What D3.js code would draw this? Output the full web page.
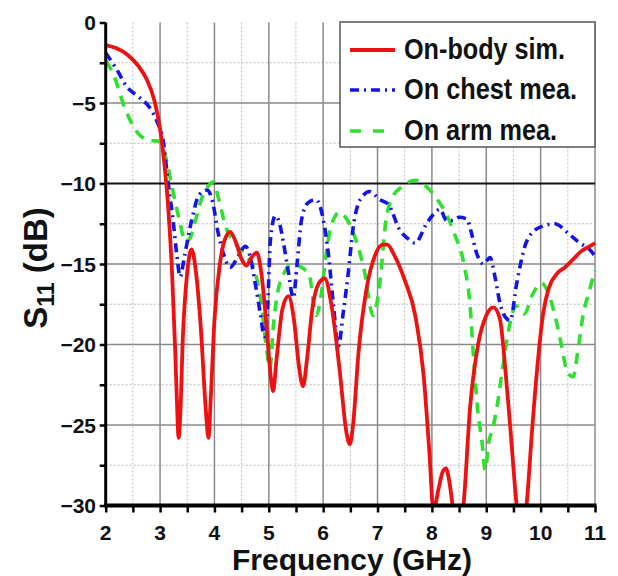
<!DOCTYPE html>
<html>
<head>
<meta charset="utf-8">
<script src="https://cdn.jsdelivr.net/npm/d3@7"></script>
<style>
  html, body { margin: 0; padding: 0; background: #fff; }
  svg text { font-family: "Liberation Sans", Arial, sans-serif; font-weight: bold; fill: #111; }
</style>
</head>
<body>
<svg id="chart" width="618" height="576"></svg>
<script>
// Reflection coefficient S11 (dB) vs frequency (GHz)
const simFreq = [2.0,2.2,2.4,2.6,2.75,2.9,3.0,3.08,3.15,3.22,3.28,3.32,3.34,3.37,3.42,3.5,3.58,3.66,3.75,3.84,3.89,3.93,4.0,4.1,4.2,4.29,4.4,4.5,4.59,4.68,4.78,4.86,4.95,5.03,5.08,5.14,5.25,5.36,5.46,5.56,5.63,5.7,5.8,5.92,6.03,6.15,6.3,6.43,6.49,6.55,6.65,6.8,6.95,7.1,7.18,7.3,7.5,7.7,7.85,7.95,8.03,8.12,8.2,8.26,8.32,8.39,8.48,8.58,8.7,8.85,9.0,9.13,9.25,9.35,9.45,9.56,9.65,9.74,9.85,9.95,10.05,10.15,10.3,10.45,10.6,10.75,10.9,11.0];
const simS11 = [-1.4,-1.6,-2.0,-2.7,-3.5,-4.9,-6.6,-8.8,-11.5,-15.5,-20.5,-24.5,-25.8,-24.5,-19.5,-15.5,-14.1,-15.5,-19,-24,-25.8,-23.5,-18.5,-15,-13.4,-13.0,-13.7,-14.7,-15.1,-14.6,-14.3,-15.5,-18.5,-21.8,-22.9,-21,-17.8,-17.0,-18.4,-21.5,-22.6,-21,-17.8,-16.2,-15.9,-17.5,-21.5,-25.5,-26.2,-25,-20.5,-16.5,-14.5,-13.8,-13.8,-14.4,-16,-18.3,-22,-26.5,-30.3,-29,-27.9,-27.7,-28.5,-30.2,-31.5,-30,-24,-20,-18.2,-17.7,-18.4,-21.5,-25.5,-30,-32,-30,-25,-21,-18,-16.5,-15.6,-15.2,-14.7,-14.2,-13.9,-13.7];

const chestFreq = [2.0,2.2,2.39,2.6,2.81,2.95,3.06,3.15,3.24,3.31,3.37,3.45,3.58,3.72,3.87,3.97,4.07,4.16,4.29,4.44,4.57,4.66,4.75,4.84,4.92,4.98,5.03,5.12,5.2,5.27,5.36,5.45,5.52,5.6,5.72,5.86,6.0,6.1,6.19,6.28,6.37,6.46,6.55,6.68,6.86,7.04,7.2,7.41,7.55,7.69,7.9,8.03,8.15,8.27,8.38,8.5,8.64,8.73,8.82,8.95,9.07,9.16,9.25,9.35,9.44,9.56,9.71,9.86,10.08,10.26,10.51,10.72,10.9,11.0];
const chestS11 = [-1.9,-2.9,-4.0,-4.6,-5.3,-6.2,-7.4,-10.0,-12.3,-14.5,-15.8,-14.5,-12.3,-10.7,-10.4,-11.2,-13.1,-14.3,-15.2,-14.5,-13.9,-14.6,-16.2,-18.0,-19.5,-17.5,-13.5,-12.0,-12.5,-13.7,-15.5,-17.1,-15,-12.3,-11.2,-11.0,-12.2,-14.5,-17.6,-20.1,-18.0,-15.6,-12.8,-11.0,-10.5,-11.0,-11.3,-12.9,-13.4,-13.7,-12.5,-11.9,-11.6,-12.3,-12.3,-12.1,-12.2,-13.1,-14.3,-15.0,-14.6,-15.8,-17.4,-18.3,-18.5,-16.2,-13.9,-13.0,-12.6,-12.5,-13.1,-13.7,-14.1,-14.5];

const armFreq = [2.0,2.14,2.35,2.6,2.8,3.0,3.12,3.22,3.35,3.47,3.55,3.65,3.77,3.9,3.98,4.08,4.2,4.42,4.6,4.72,4.85,4.95,5.02,5.08,5.15,5.28,5.42,5.6,5.75,5.87,5.96,6.05,6.15,6.3,6.45,6.58,6.75,6.92,7.0,7.07,7.12,7.25,7.45,7.7,7.9,8.1,8.25,8.4,8.6,8.7,8.76,8.84,8.92,8.98,9.05,9.12,9.2,9.3,9.4,9.55,9.7,9.85,10.02,10.15,10.25,10.38,10.5,10.6,10.68,10.78,10.9,11.0];
const armS11 = [-2.4,-3.2,-5.3,-6.9,-7.3,-7.4,-8.6,-10.2,-12.2,-13.6,-13.4,-12.3,-10.9,-10.1,-9.9,-11.0,-12.6,-13.9,-14.6,-15.2,-17.2,-20.0,-21.5,-19.0,-17.0,-15.6,-15.0,-15.2,-15.8,-18.2,-17.0,-14.5,-12.6,-11.8,-12.3,-13.3,-15.3,-18.2,-17.2,-15.3,-13.3,-11.0,-10.2,-9.8,-10.2,-11.0,-11.8,-13.0,-15.2,-17.5,-20.5,-24.0,-26.0,-27.8,-26.0,-25.2,-23.8,-21.5,-19.3,-17.6,-18.1,-16.9,-16.2,-16.9,-18.0,-20.0,-21.8,-22.0,-20.5,-18.2,-16.6,-15.4];

const xTicks = [2,3,4,5,6,7,8,9,10,11];
const yTicks = [0,-5,-10,-15,-20,-25,-30];
const legendLabels = ["On-body sim.","On chest mea.","On arm mea."];

const svg = d3.select("#chart");
const x = d3.scaleLinear().domain([2, 11]).range([105.7, 595]);
const y = d3.scaleLinear().domain([-30, 0]).range([505.5, 22.5]);

// grid: dotted minor lines every 0.5 GHz / 2.5 dB, solid major lines
const grid = svg.append("g");
const minorX = d3.range(2.5, 11, 1);
const minorY = d3.range(-27.5, 0, 5);
grid.selectAll(".mx").data(minorX).join("line")
  .attr("x1", d => x(d)).attr("x2", d => x(d)).attr("y1", y(0)).attr("y2", y(-30))
  .attr("stroke", "#bbb").attr("stroke-width", 1).attr("stroke-dasharray", "2,2");
grid.selectAll(".my").data(minorY).join("line")
  .attr("x1", x(2)).attr("x2", x(11)).attr("y1", d => y(d)).attr("y2", d => y(d))
  .attr("stroke", "#bbb").attr("stroke-width", 1).attr("stroke-dasharray", "2,2");
grid.selectAll(".Mx").data(xTicks.slice(1)).join("line")
  .attr("x1", d => x(d)).attr("x2", d => x(d)).attr("y1", y(0)).attr("y2", y(-30))
  .attr("stroke", "#8a8a8a").attr("stroke-width", 1.5);
grid.selectAll(".My").data(yTicks.filter(d => d < 0 && d > -30)).join("line")
  .attr("x1", x(2)).attr("x2", x(11)).attr("y1", d => y(d)).attr("y2", d => y(d))
  .attr("stroke", d => d === -10 ? "#111" : "#8a8a8a")
  .attr("stroke-width", d => d === -10 ? 2 : 1.5);

// curves
svg.append("clipPath").attr("id", "plotClip").append("rect")
  .attr("x", x(2)).attr("y", y(0) - 5).attr("width", x(11) - x(2) + 2).attr("height", y(-30) - y(0) + 5);

const line = d3.line().x(d => x(d[0])).y(d => y(d[1])).curve(d3.curveMonotoneX);
const series = [
  { f: armFreq, v: armS11, color: "#2fe02f", dash: "11,8", w: 3.6 },
  { f: chestFreq, v: chestS11, color: "#1414e6", dash: "9,5,2,5", w: 3.6 },
  { f: simFreq, v: simS11, color: "#ee1111", dash: null, w: 3.8 }
];
const curves = svg.append("g").attr("clip-path", "url(#plotClip)");
series.forEach(s => {
  curves.append("path")
    .datum(d3.zip(s.f, s.v))
    .attr("d", line)
    .attr("fill", "none")
    .attr("stroke", s.color)
    .attr("stroke-width", s.w)
    .attr("stroke-dasharray", s.dash)
    .attr("stroke-linejoin", "round");
});

// axes
const yAxis = d3.axisLeft(y).tickValues(d3.range(-30, 0.1, 2.5)).tickSize(6).tickFormat("");
const gy = svg.append("g").attr("transform", `translate(${x(2)},0)`).call(yAxis);
gy.select(".domain").attr("stroke", "#000").attr("stroke-width", 3).attr("d", `M0,${y(0)}V${y(-30)}`);
gy.selectAll(".tick line").attr("stroke", "#000").attr("stroke-width", 2.5);
svg.append("g").selectAll("text").data(yTicks).join("text")
  .attr("x", 96).attr("y", d => y(d)).attr("dy", "0.36em")
  .attr("text-anchor", "end").attr("font-size", 21)
  .text(d => d === 0 ? "0" : "\u2212" + Math.abs(d));

const xAxis = d3.axisBottom(x).tickValues(d3.range(2, 11.01, 0.5)).tickSize(7).tickFormat("");
const gx = svg.append("g").attr("transform", `translate(0,${y(-30)})`).call(xAxis);
gx.select(".domain").attr("stroke", "#000").attr("stroke-width", 4).attr("d", `M${x(2) - 1.5},0H${x(11) + 1.5}`);
gx.selectAll(".tick line").attr("stroke", "#000").attr("stroke-width", 2.5);
svg.append("g").selectAll("text").data(xTicks).join("text")
  .attr("x", d => x(d)).attr("y", 540)
  .attr("text-anchor", "middle").attr("font-size", 21)
  .text(d => d);

// axis titles
svg.append("text").attr("x", 352).attr("y", 570).attr("text-anchor", "middle")
  .attr("font-size", 30).text("Frequency (GHz)");
const yl = svg.append("text").attr("transform", "translate(47,268) rotate(-90)")
  .attr("text-anchor", "middle").attr("font-size", 33);
yl.append("tspan").text("S");
yl.append("tspan").attr("font-size", 23).attr("dy", 7).text("11");
yl.append("tspan").attr("dy", -7).text(" (dB)");

// legend
const lg = svg.append("g");
lg.append("rect").attr("x", 340).attr("y", 22).attr("width", 255).attr("height", 125)
  .attr("fill", "#fff").attr("stroke", "#555").attr("stroke-width", 1.5);
const legendY = [50, 90, 131];
const legendWidths = [161, 173, 153];
series.slice().reverse().forEach((s, i) => {
  lg.append("line").attr("x1", 350).attr("x2", 395).attr("y1", legendY[i]).attr("y2", legendY[i])
    .attr("stroke", s.color).attr("stroke-width", s.w)
    .attr("stroke-dasharray", i === 1 ? "9,5,2,5" : (i === 2 ? "11,12" : null));
  lg.append("text").attr("x", 404).attr("y", legendY[i] + 9)
    .attr("font-size", 29).attr("textLength", legendWidths[i]).attr("lengthAdjust", "spacingAndGlyphs")
    .text(legendLabels[i]);
});
</script>
</body>
</html>
